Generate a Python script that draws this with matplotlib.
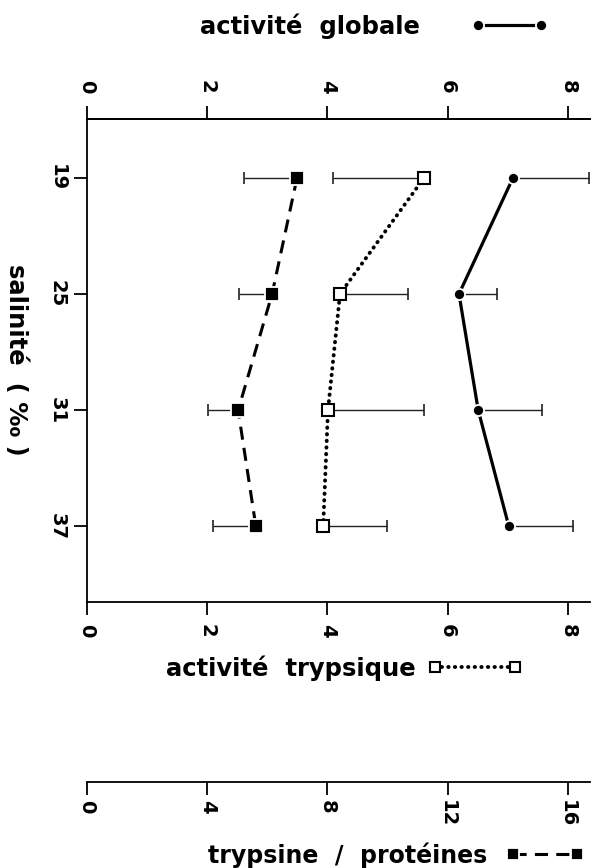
import matplotlib
matplotlib.use('Agg')
import matplotlib.pyplot as plt
from matplotlib.lines import Line2D

# ---- data ----
salinite = [19, 25, 31, 37]
sal_labels = ['19', '25', '31', '37']

globale = [7.09, 6.19, 6.51, 7.02]
globale_err_plus = [1.27, 0.63, 1.06, 1.07]

trypsique = [5.61, 4.21, 4.01, 3.93]
trypsique_err_minus = [1.52, 0.0, 0.0, 0.0]
trypsique_err_plus = [0.0, 1.13, 1.60, 1.06]

tryp_prot = [6.99, 6.16, 5.03, 5.62]
tryp_prot_err_minus = [1.77, 1.10, 1.00, 1.42]
tryp_prot_err_plus = [0.0, 0.0, 0.0, 0.0]

act_ticks = [0, 2, 4, 6, 8]
tp_ticks = [0, 4, 8, 12, 16]

# ---- style ----
plt.rcParams['font.family'] = ['DejaVu Sans']
plt.rcParams['font.weight'] = 'bold'

W, H = 602, 868
fig = plt.figure(figsize=(W / 100, H / 100), dpi=100)
L, R = 87 / W, 590 / W
TOP, BOT = 119, 602
ax = fig.add_axes([L, 1 - BOT / H, R - L, (BOT - TOP) / H])
ax.set_xlim(0, 8.37)
ax.set_ylim(40.9, 15.97)

ax_tp = ax.twiny()
ax_tp.set_xlim(0, 16.74)
ax_tp.axis('off')

eb = dict(fmt='none', ecolor='#222222', elinewidth=1.0, capsize=4.5, capthick=1.2, zorder=2)
ax.errorbar(globale, salinite, xerr=[[0] * 4, globale_err_plus], **eb)
ax.errorbar(trypsique, salinite, xerr=[trypsique_err_minus, trypsique_err_plus], **eb)
ax_tp.errorbar(tryp_prot, salinite, xerr=[tryp_prot_err_minus, tryp_prot_err_plus], **eb)

st_g = dict(color='k', lw=2.3, ls='-', marker='o', ms=8, mfc='k', mec='white', mew=1.3)
st_t = dict(color='k', lw=2.8, ls=(0, (0.1, 1.6)), dash_capstyle='round',
            marker='s', ms=8.5, mfc='white', mec='k', mew=1.5)
st_p = dict(color='k', lw=2.2, ls=(0, (4.3, 2.7)), marker='s', ms=9.5,
            mfc='k', mec='white', mew=1.3)

ax.plot(globale, salinite, zorder=3, **st_g)
ax.plot(trypsique, salinite, zorder=3, **st_t)
ax_tp.plot(tryp_prot, salinite, zorder=3, **st_p)

for s in ['left', 'top', 'bottom']:
    ax.spines[s].set_linewidth(1.3)
ax.spines['right'].set_visible(False)

FS_T = 14
ax.set_yticks(salinite, sal_labels)
ax.tick_params(axis='y', length=9.5, width=1.3, pad=5, labelsize=FS_T, labelrotation=270)
for t in ax.get_yticklabels():
    t.set_va('center')
ax.set_xticks(act_ticks)
ax.tick_params(axis='x', length=9.5, width=1.3, pad=6.5, labelsize=FS_T, labelrotation=270)

sec = ax.secondary_xaxis('top')
sec.set_xticks(act_ticks)
sec.tick_params(length=9.5, width=1.3, pad=9, labelsize=FS_T, labelrotation=270)
sec.spines['top'].set_linewidth(1.3)

# third scale: trypsine / protéines
ax3 = fig.add_axes([L, 1 - 782 / H, R - L, 0.0005])
ax3.set_xlim(0, 16.74)
ax3.set_xticks(tp_ticks)
ax3.set_yticks([])
for s in ['left', 'right', 'top']:
    ax3.spines[s].set_visible(False)
ax3.spines['bottom'].set_linewidth(1.3)
ax3.patch.set_visible(False)
ax3.tick_params(axis='x', length=9.5, width=1.3, pad=3.5, labelsize=FS_T, labelrotation=270)

FS = 17.5
fig.text(16 / W, 1 - 360 / H, 'salinité  ( ‰ )', rotation=270, ha='center', va='center', fontsize=FS)

leg_common = dict(loc='center left', frameon=False, markerfirst=False, numpoints=2,
                  borderpad=0, borderaxespad=0)
fig.legend([Line2D([], [], **st_g)], ['activité  globale'], fontsize=FS,
           bbox_to_anchor=(200 / W, 1 - 26 / H), handlelength=3.2, handletextpad=2.1, **leg_common)
fig.legend([Line2D([], [], **{**st_t, 'ms': 7})], ['activité  trypsique'], fontsize=FS,
           bbox_to_anchor=(166 / W, 1 - 668 / H), handlelength=3.9, handletextpad=0.5, **leg_common)
fig.legend([Line2D([], [], **{**st_p, 'ms': 8})], ['trypsine  /  protéines'], fontsize=17,
           bbox_to_anchor=(208 / W, 1 - 855 / H), handlelength=3.3, handletextpad=0.8, **leg_common)

fig.savefig('out.png', dpi=100, facecolor='white')
